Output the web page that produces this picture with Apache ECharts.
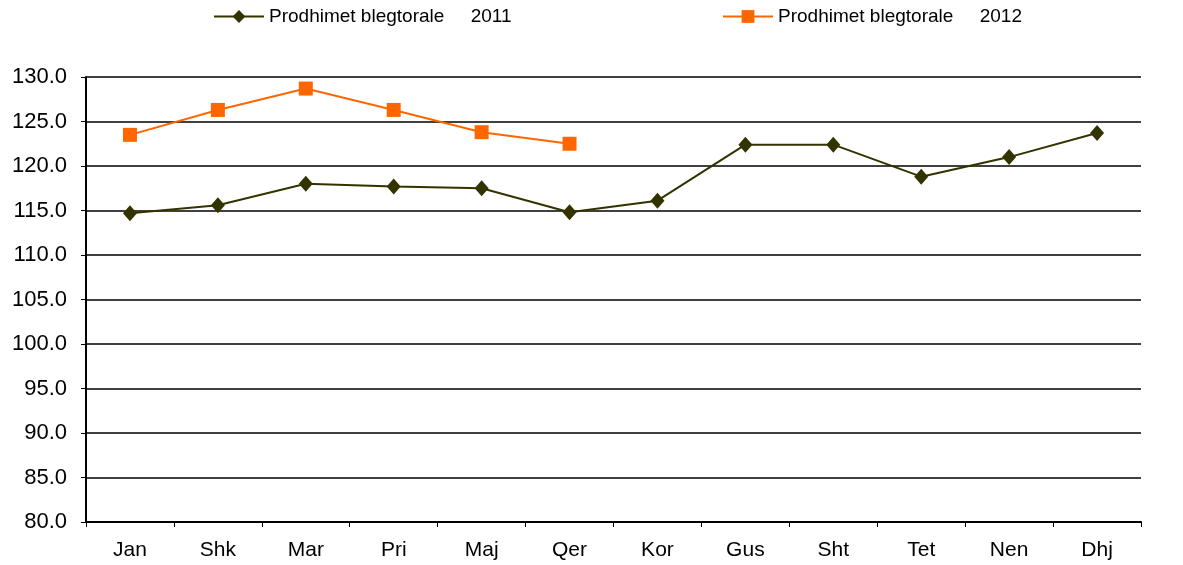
<!DOCTYPE html>
<html>
<head>
<meta charset="utf-8">
<script src="https://cdn.jsdelivr.net/npm/echarts@6/dist/echarts.min.js"></script>
<style>
  html, body { margin: 0; padding: 0; background: #fff; }
  #main { width: 1183px; height: 565px; }
</style>
</head>
<body>
<div id="main"></div>
<script>
// muajt
var months = ['Jan', 'Shk', 'Mar', 'Pri', 'Maj', 'Qer', 'Kor', 'Gus', 'Sht', 'Tet', 'Nen', 'Dhj'];
// vlerat e lexuara nga grafiku
var values2011 = [114.7, 115.6, 118.0, 117.7, 117.5, 114.8, 116.1, 122.4, 122.4, 118.8, 121.0, 123.7];
var values2012 = [123.5, 126.3, 128.7, 126.3, 123.8, 122.5];
var name2011 = 'Prodhimet blegtorale     2011';
var name2012 = 'Prodhimet blegtorale     2012';

var chart = echarts.init(document.getElementById('main'));
var font = 'Liberation Sans, Arial, sans-serif';

chart.setOption({
  backgroundColor: '#fff',
  animation: false,
  legend: [{
    data: [name2011],
    left: 208,
    top: 2,
    itemWidth: 50,
    itemHeight: 16,
    textStyle: { fontFamily: font, fontSize: 19, color: '#000' }
  }, {
    data: [name2012],
    left: 717,
    top: 2,
    itemWidth: 50,
    itemHeight: 16,
    textStyle: { fontFamily: font, fontSize: 19, color: '#000' }
  }],
  grid: { left: 86, right: 42, top: 77, bottom: 43 },
  xAxis: {
    type: 'category',
    data: months,
    boundaryGap: true,
    axisLine: { lineStyle: { color: '#000', width: 2 } },
    axisTick: { show: true, length: 5, lineStyle: { color: '#000', width: 1 } },
    axisLabel: { fontFamily: font, fontSize: 21, color: '#000', margin: 18 }
  },
  yAxis: {
    type: 'value',
    min: 80,
    max: 130,
    interval: 5,
    axisLine: { show: true, lineStyle: { color: '#000', width: 2 } },
    axisTick: { show: true, length: 5, lineStyle: { color: '#000', width: 1 } },
    axisLabel: {
      fontFamily: font, fontSize: 22, color: '#000', margin: 19,
      formatter: function (v) { return v.toFixed(1); }
    },
    splitLine: { lineStyle: { color: '#000', width: 1.5 } }
  },
  series: [{
    name: name2011,
    type: 'line',
    data: values2011,
    symbol: 'diamond',
    symbolSize: [14, 16],
    lineStyle: { color: '#333300', width: 2 },
    itemStyle: { color: '#333300' }
  }, {
    name: name2012,
    type: 'line',
    data: values2012,
    symbol: 'rect',
    symbolSize: 14,
    lineStyle: { color: '#FF6600', width: 2 },
    itemStyle: { color: '#FF6600' }
  }]
});
</script>
</body>
</html>
